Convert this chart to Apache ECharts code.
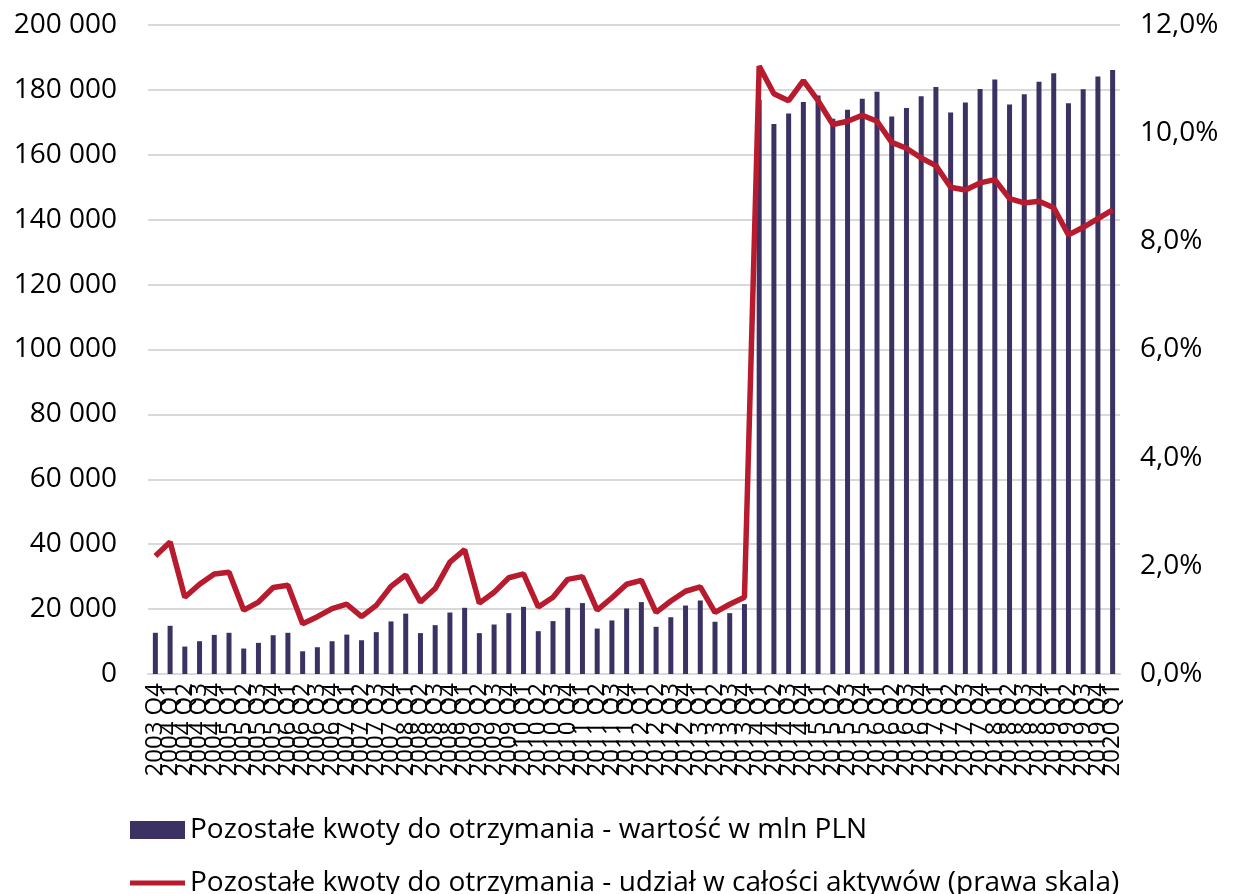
<!DOCTYPE html>
<html>
<head>
<meta charset="utf-8">
<script src="https://cdn.jsdelivr.net/npm/echarts@6/dist/echarts.min.js"></script>
<style>
html,body{margin:0;padding:0;background:#fff;}
#c{width:1235px;height:894px;}
</style>
</head>
<body>
<div id="c"></div>
<script>
var categories = [
  '2003 Q4',
  '2004 Q1','2004 Q2','2004 Q3','2004 Q4',
  '2005 Q1','2005 Q2','2005 Q3','2005 Q4',
  '2006 Q1','2006 Q2','2006 Q3','2006 Q4',
  '2007 Q1','2007 Q2','2007 Q3','2007 Q4',
  '2008 Q1','2008 Q2','2008 Q3','2008 Q4',
  '2009 Q1','2009 Q2','2009 Q3','2009 Q4',
  '2010 Q1','2010 Q2','2010 Q3','2010 Q4',
  '2011 Q1','2011 Q2','2011 Q3','2011 Q4',
  '2012 Q1','2012 Q2','2012 Q3','2012 Q4',
  '2013 Q1','2013 Q2','2013 Q3','2013 Q4',
  '2014 Q1','2014 Q2','2014 Q3','2014 Q4',
  '2015 Q1','2015 Q2','2015 Q3','2015 Q4',
  '2016 Q1','2016 Q2','2016 Q3','2016 Q4',
  '2017 Q1','2017 Q2','2017 Q3','2017 Q4',
  '2018 Q1','2018 Q2','2018 Q3','2018 Q4',
  '2019 Q1','2019 Q2','2019 Q3','2019 Q4',
  '2020 Q1'
];

// Pozostałe kwoty do otrzymania - wartość w mln PLN
var valuesMln = [
  12700,
  14850, 8450, 10100, 12050,
  12700, 7850, 9600, 11950,
  12700, 7000, 8250, 10100,
  12150, 10400, 12900, 16200,
  18600, 12600, 15050, 18950,
  20400, 12600, 15250, 18750,
  20700, 13200, 16300, 20400,
  21850, 14000, 16500, 20200,
  22150, 14550, 17500, 21100,
  22650, 16100, 18750, 21550,
  177000, 169500, 172700, 176300,
  178300, 171100, 173850, 177300,
  179400, 171800, 174450, 178050,
  180900, 173050, 176100, 180300,
  183200, 175500, 178650, 182550,
  185150, 175900, 180200, 184100,
  186150
];

// Pozostałe kwoty do otrzymania - udział w całości aktywów (%)
var sharePct = [
  2.18,
  2.44, 1.42, 1.66, 1.85,
  1.88, 1.18, 1.33, 1.60,
  1.64, 0.93, 1.06, 1.21,
  1.29, 1.06, 1.27, 1.62,
  1.83, 1.33, 1.58, 2.07,
  2.30, 1.31, 1.51, 1.78,
  1.85, 1.24, 1.42, 1.75,
  1.80, 1.18, 1.41, 1.66,
  1.73, 1.14, 1.35, 1.53,
  1.61, 1.14, 1.29, 1.42,
  11.24, 10.73, 10.60, 10.97,
  10.60, 10.16, 10.22, 10.33,
  10.22, 9.83, 9.72, 9.54,
  9.40, 9.00, 8.95, 9.08,
  9.14, 8.79, 8.71, 8.74,
  8.62, 8.12, 8.26, 8.42,
  8.58
];

var seriesNames = [
  'Pozostałe kwoty do otrzymania - wartość w mln PLN',
  'Pozostałe kwoty do otrzymania - udział w całości aktywów (prawa skala)'
];

var FONT = '"Open Sans", sans-serif';
var BAR_COLOR = '#3B3162';
var LINE_COLOR = '#B81B2E';
var chart = echarts.init(document.getElementById('c'), null, {renderer: 'canvas'});

function fmtThousands(v) {
  return String(v).replace(/\B(?=(\d{3})+(?!\d))/g, ' ');
}

chart.setOption({
  animation: false,
  backgroundColor: '#ffffff',
  textStyle: {fontFamily: FONT, color: '#000'},
  grid: {left: 148, right: 115, top: 25, bottom: 220, containLabel: false},
  legend: [
    {
      orient: 'horizontal',
      left: 125,
      top: 811,
      itemWidth: 55,
      itemHeight: 18,
      textStyle: {fontFamily: FONT, fontSize: 28, color: '#000'},
      data: [{name: seriesNames[0], icon: 'rect'}]
    },
    {
      orient: 'horizontal',
      left: 125,
      top: 864,
      itemWidth: 55,
      itemHeight: 5,
      textStyle: {fontFamily: FONT, fontSize: 28, color: '#000'},
      data: [{name: seriesNames[1], icon: 'rect', itemStyle: {color: LINE_COLOR}}]
    }
  ],
  xAxis: {
    type: 'category',
    data: categories,
    boundaryGap: true,
    axisLine: {show: true, lineStyle: {color: '#D9D9D9', width: 2}},
    axisTick: {show: false},
    axisLabel: {
      interval: 0,
      rotate: 90,
      margin: 9,
      fontFamily: FONT,
      fontSize: 24,
      color: '#000'
    }
  },
  yAxis: [
    {
      type: 'value',
      min: 0,
      max: 200000,
      interval: 20000,
      axisLine: {show: false},
      axisTick: {show: false},
      splitLine: {lineStyle: {color: '#D9D9D9', width: 2}},
      axisLabel: {
        margin: 31,
        fontFamily: FONT,
        fontSize: 28,
        color: '#000',
        formatter: function (v) { return fmtThousands(v); }
      }
    },
    {
      type: 'value',
      min: 0,
      max: 12,
      interval: 2,
      axisLine: {show: false},
      axisTick: {show: false},
      splitLine: {show: false},
      axisLabel: {
        margin: 20,
        fontFamily: FONT,
        fontSize: 28,
        color: '#000',
        formatter: function (v) { return v.toFixed(1).replace('.', ',') + '%'; }
      }
    }
  ],
  series: [
    {
      name: seriesNames[0],
      type: 'bar',
      yAxisIndex: 0,
      data: valuesMln,
      barWidth: 5,
      itemStyle: {color: BAR_COLOR}
    },
    {
      name: seriesNames[1],
      type: 'line',
      yAxisIndex: 1,
      data: sharePct,
      symbol: 'none',
      smooth: false,
      lineStyle: {color: LINE_COLOR, width: 5.5},
      itemStyle: {color: LINE_COLOR}
    }
  ]
});
</script>
</body>
</html>
